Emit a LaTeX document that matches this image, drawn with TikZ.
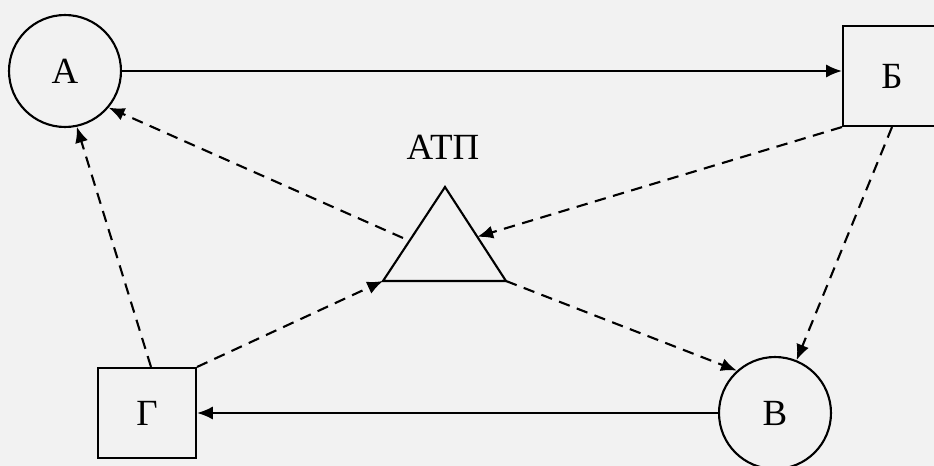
\documentclass[tikz,border=0pt]{standalone}
\usepackage{fontspec}
\setmainfont{Liberation Serif}
\usetikzlibrary{arrows.meta,calc}
\definecolor{PaperGray}{RGB}{242,242,242}
\tikzset{>={Latex[length=9pt,width=7.5pt]}}
\tikzset{mynodes/.style={draw,line width=1.2pt,font=\fontsize{21}{25}\selectfont,inner sep=0pt}}
\tikzset{roundnode/.style={mynodes,circle,minimum size=2.24cm}}
\tikzset{boxnode/.style={mynodes,rectangle,minimum width=1.96cm}}
\tikzset{solidlink/.style={->,line width=1.2pt}}
\tikzset{dashlink/.style={->,line width=1.2pt,dash pattern=on 6.5pt off 4.3pt}}

\begin{document}
\begin{tikzpicture}[x=0.02cm,y=-0.02cm]
    \path[use as bounding box,fill=PaperGray] (0,0) rectangle (934,466);
    \clip (0,0) rectangle (934,466);
    % nodes
    \node[roundnode] (a) at (65,71) {А};
    \node[boxnode,minimum height=2cm] (b) at (892,76) {Б};
    \node[roundnode] (v) at (775,413) {В};
    \node[boxnode,minimum height=1.8cm] (g) at (147,413) {Г};
    % triangle
    \coordinate (tTop) at (445,187);
    \coordinate (tLeft) at (383,281);
    \coordinate (tRight) at (506,281);
    \draw[line width=1.2pt,line join=miter] (tTop) -- (tLeft) -- (tRight) -- cycle;
    \node[font=\fontsize{21}{25}\selectfont] (atp) at (443,147) {АТП};
    \coordinate (tIn) at ($(tTop)!0.53!(tRight)$);
    \coordinate (tOut) at (403,238);
    % connectors
    \draw[solidlink] (a.east) -- (a.east -| b.west);
    \draw[solidlink] (v.west) -- (g.east);
    \draw[dashlink] (b.south west) -- (tIn);
    \draw[dashlink] (b.south) -- (v);
    \draw[dashlink] (tRight) -- (v.132);
    \draw[dashlink] (g.north east) -- (tLeft);
    \draw[dashlink] (tOut) -- (a.320);
    \draw[dashlink] ([xshift=0.08cm]g.north) -- (a.282);
\end{tikzpicture}
\end{document}
